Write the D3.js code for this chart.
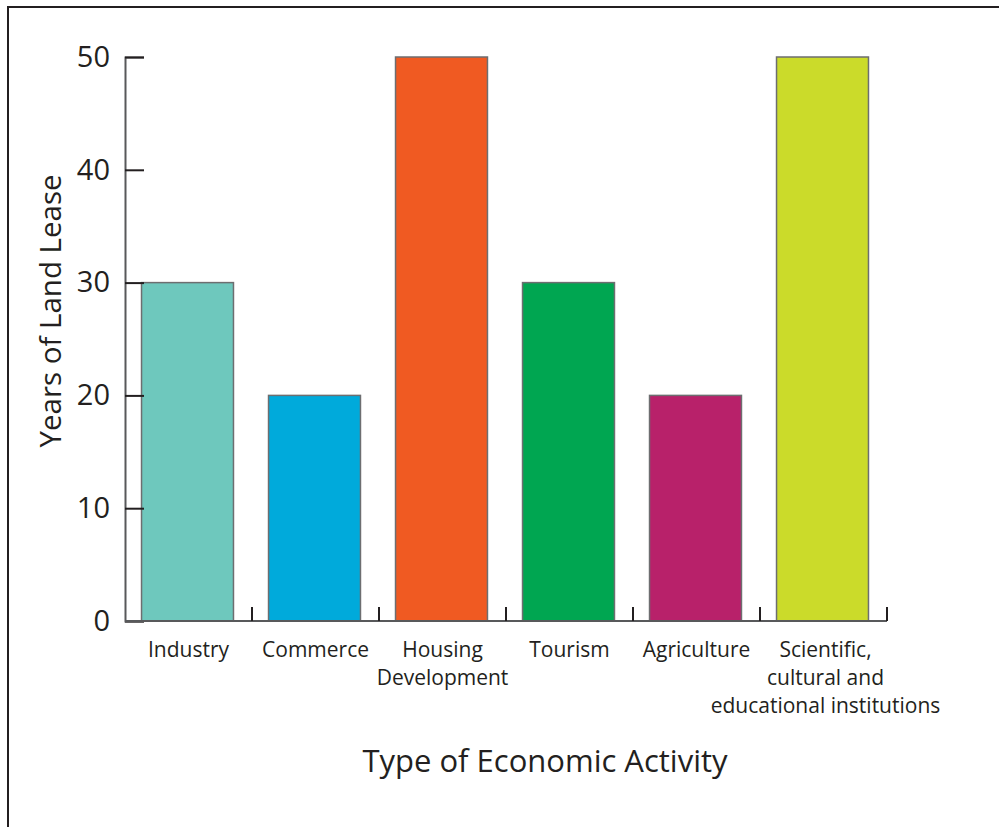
<!DOCTYPE html>
<html>
<head>
<meta charset="utf-8">
<script src="https://cdn.jsdelivr.net/npm/d3@7"></script>
<style>
  body { margin: 0; background: #fff; }
  text { font-family: "Open Sans", sans-serif; fill: #231f20; }
</style>
</head>
<body>
<div id="my_dataviz"></div>
<script>
// chart data
var categories = ["Industry", "Commerce", "Housing Development", "Tourism", "Agriculture",
                  "Scientific, cultural and educational institutions"];
var labelLines = [["Industry"], ["Commerce"], ["Housing", "Development"], ["Tourism"], ["Agriculture"],
                  ["Scientific,", "cultural and", "educational institutions"]];
var years = [30, 20, 50, 30, 20, 50];
var barColors = ["#6ec8bd", "#00aadb", "#f05a22", "#00a651", "#b8216a", "#cbdb2a"];
var yTicks = [0, 10, 20, 30, 40, 50];

var W = 999, H = 827;
var svg = d3.select("#my_dataviz")
            .append("svg")
              .attr("width", W)
              .attr("height", H);

// outer frame (runs off the right/bottom edge)
svg.append("rect")
   .attr("x", 8).attr("y", 7)
   .attr("width", 1000).attr("height", 900)
   .attr("fill", "none")
   .attr("stroke", "#231f20")
   .attr("stroke-width", 2);

var x = d3.scaleBand()
          .domain(categories)
          .range([125, 887])
          .paddingInner(0.276)
          .paddingOuter(0.138);

var y = d3.scaleLinear()
          .domain([0, 50])
          .range([621, 57]);

// bars
svg.append("g")
   .selectAll("rect")
   .data(categories)
   .enter()
   .append("rect")
     .attr("x", function (d) { return x(d) - 1; })
     .attr("y", function (d, i) { return y(years[i]); })
     .attr("width", x.bandwidth())
     .attr("height", function (d, i) { return y(0) - y(years[i]); })
     .attr("fill", function (d, i) { return barColors[i]; })
     .attr("stroke", "#6d6e70")
     .attr("stroke-width", 1.5);

// y axis, ticks pointing inward
var yAxis = svg.append("g")
               .attr("transform", "translate(125,0)")
               .call(d3.axisLeft(y).tickValues(yTicks).tickSize(-19).tickPadding(15));
yAxis.select(".domain").attr("stroke", "#58595b").attr("stroke-width", 2);
yAxis.selectAll(".tick line").attr("stroke", "#231f20").attr("stroke-width", 2);
yAxis.selectAll("text")
     .style("font-size", "29px")
     .style("font-family", "'Open Sans', sans-serif")
     .attr("fill", "#231f20");

// x axis: baseline with upward ticks at band boundaries
var step = x.step();
var bounds = d3.range(1, categories.length + 1).map(function (i) { return x.range()[0] + step * i; });
var xg = svg.append("g");
xg.append("line")
  .attr("x1", 125).attr("x2", x.range()[1])
  .attr("y1", y(0)).attr("y2", y(0))
  .attr("stroke", "#58595b").attr("stroke-width", 2);
xg.selectAll(".xtick")
  .data(bounds)
  .enter()
  .append("line")
    .attr("x1", function (d) { return d; })
    .attr("x2", function (d) { return d; })
    .attr("y1", y(0))
    .attr("y2", y(0) - 14)
    .attr("stroke", "#231f20").attr("stroke-width", 2);

// category labels
var lbl = svg.append("g")
             .selectAll("text")
             .data(categories)
             .enter()
             .append("text")
               .attr("text-anchor", "middle")
               .attr("x", function (d) { return x(d) + x.bandwidth() / 2 + (d === categories[5] ? 2 : 0); })
               .attr("y", 657)
               .style("font-size", "21px");
lbl.selectAll("tspan")
   .data(function (d, i) { return labelLines[i]; })
   .enter()
   .append("tspan")
     .attr("x", function () { return d3.select(this.parentNode).attr("x"); })
     .attr("dy", function (d, j) { return j === 0 ? 0 : 28; })
     .text(function (d) { return d; });

// axis titles
svg.append("text")
   .attr("text-anchor", "middle")
   .attr("x", 545)
   .attr("y", 772)
   .style("font-size", "31px")
   .text("Type of Economic Activity");

svg.append("text")
   .attr("text-anchor", "middle")
   .attr("transform", "translate(61,311) rotate(-90)")
   .style("font-size", "29.5px")
   .text("Years of Land Lease");
</script>
</body>
</html>
